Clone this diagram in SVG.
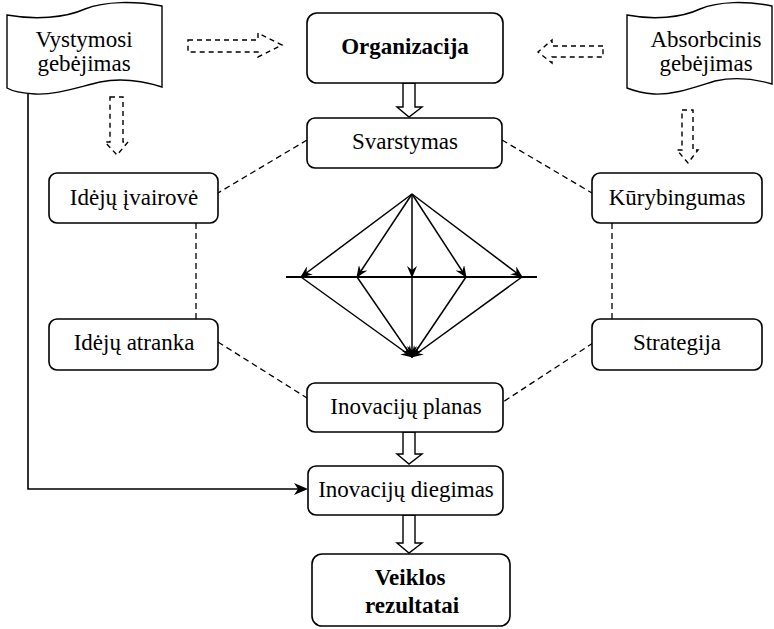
<svg xmlns="http://www.w3.org/2000/svg" width="774" height="629" viewBox="0 0 774 629">
<defs>
<style>
.box{fill:#fff;stroke:#000;stroke-width:1.6}
.flag{fill:#fff;stroke:#000;stroke-width:1.4}
text{font-family:'Liberation Serif','Times New Roman',serif;font-size:23px;fill:#000;text-anchor:middle}
.b{font-weight:bold}
.dash{fill:none;stroke:#000;stroke-width:1.3;stroke-dasharray:6,4}
.dasharrow{fill:none;stroke:#000;stroke-width:1.4;stroke-dasharray:5,4}
.hollow{fill:#fff;stroke:#000;stroke-width:1.4}
.solid{fill:none;stroke:#000;stroke-width:1.6}
.ray{fill:none;stroke:#000;stroke-width:1.5;marker-end:url(#ah)}
</style>
<marker id="ah" viewBox="0 0 12 10" refX="11" refY="5" markerWidth="12" markerHeight="10" markerUnits="userSpaceOnUse" orient="auto">
<path d="M0,0 L12,5 L0,10 L4,5 Z" fill="#000"/>
</marker>
</defs>

<g id="connectors">
<path class="dasharrow" d="M188,40 L258,40 L258,33 L282,45 L258,57 L258,52 L188,52 Z"/>
<path class="dasharrow" d="M603,46 L552,46 L552,40 L538,52 L552,63 L552,57 L603,57 Z"/>
<path class="dasharrow" d="M110,97 L123,97 L123,142 L128,142 L117,155 L105,142 L110,142 Z"/>
<path class="dasharrow" d="M682,110 L693,110 L693,150 L698,150 L688,163 L677,150 L682,150 Z"/>
<path class="dash" d="M307,140 L218,193"/>
<path class="dash" d="M502,140 L592,193"/>
<path class="dash" d="M196,223 L196,319"/>
<path class="dash" d="M612,223 L612,319"/>
<path class="dash" d="M218,342 L307,398"/>
<path class="dash" d="M593,343 L503,402"/>
<path class="hollow" d="M403,83 L415,83 L415,107 L422,107 L409,117 L397,107 L403,107 Z"/>
<path class="hollow" d="M403,432 L415,432 L415,454 L422,454 L409,464 L397,454 L403,454 Z"/>
<path class="hollow" d="M403,515 L415,515 L415,543 L422,543 L409,553 L397,543 L403,543 Z"/>
<path class="solid" d="M28,93 L28,489 L300,489"/>
<path d="M308,489 L294,483 L298,489 L294,495 Z" fill="#000"/>
<line x1="286" y1="277" x2="537" y2="277" stroke="#000" stroke-width="1.8"/>
<path class="ray" d="M412,194 L301,277"/>
<path class="ray" d="M412,194 L357,277"/>
<path class="ray" d="M412,194 L412,277"/>
<path class="ray" d="M412,194 L466,277"/>
<path class="ray" d="M412,194 L522,277"/>
<path class="ray" d="M301,277 L412,357"/>
<path class="ray" d="M357,277 L412,357"/>
<path class="ray" d="M412,277 L412,357"/>
<path class="ray" d="M466,277 L412,357"/>
<path class="ray" d="M522,277 L412,357"/>
</g>

<g id="vystymosi">
<path class="flag" d="M7,15 C35,20 65,18 85,9 C105,1 135,1 162,6 L162,87 C140,80 120,78 100,82 C75,88 55,95 35,94 C20,93 12,91 7,88 Z"/>
<text x="84" y="47">Vystymosi</text>
<text x="84" y="71">gebėjimas</text>
</g>

<g id="absorbcinis">
<path class="flag" d="M627,15 C653,20 681,18 700,9 C719,1 747,1 772,6 L772,84 C752,78 733,77 715,81 C692,88 673,95 654,94 C640,93 632,90 627,88 Z"/>
<text x="706" y="47">Absorbcinis</text>
<text x="706" y="71">gebėjimas</text>
</g>

<g id="organizacija">
<rect class="box" x="307" y="13" width="196" height="70" rx="10"/>
<text class="b" x="405" y="54">Organizacija</text>
</g>

<g id="svarstymas">
<rect class="box" x="307" y="118" width="195" height="50" rx="8"/>
<text x="405" y="149">Svarstymas</text>
</g>

<g id="ideju-ivairove">
<rect class="box" x="49" y="173" width="169" height="50" rx="8"/>
<text x="134" y="205">Idėjų įvairovė</text>
</g>

<g id="kurybingumas">
<rect class="box" x="592" y="173" width="170" height="50" rx="8"/>
<text x="677" y="205">Kūrybingumas</text>
</g>

<g id="ideju-atranka">
<rect class="box" x="49" y="319" width="169" height="51" rx="8"/>
<text x="134" y="350">Idėjų atranka</text>
</g>

<g id="strategija">
<rect class="box" x="592" y="319" width="170" height="51" rx="8"/>
<text x="677" y="350">Strategija</text>
</g>

<g id="inovaciju-planas">
<rect class="box" x="307" y="383" width="196" height="49" rx="8"/>
<text x="406" y="414">Inovacijų planas</text>
</g>

<g id="inovaciju-diegimas">
<rect class="box" x="308" y="466" width="195" height="49" rx="8"/>
<text x="406" y="497">Inovacijų diegimas</text>
</g>

<g id="veiklos-rezultatai">
<rect class="box" x="312" y="554" width="198" height="72" rx="10"/>
<text class="b" x="410" y="585">Veiklos</text>
<text class="b" x="412" y="613">rezultatai</text>
</g>
</svg>
